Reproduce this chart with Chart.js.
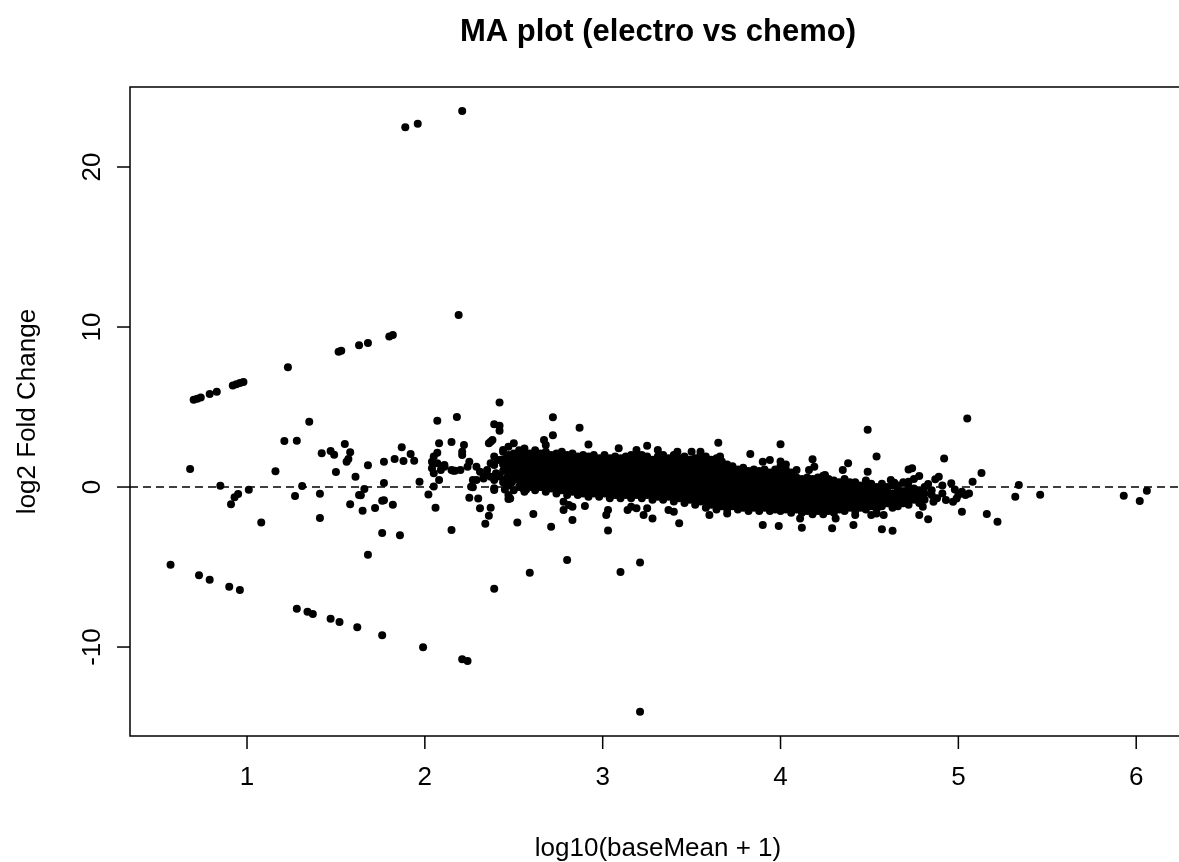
<!DOCTYPE html>
<html>
<head>
<meta charset="utf-8">
<title>MA plot (electro vs chemo)</title>
<script src="https://cdn.jsdelivr.net/npm/chart.js@4.4.1/dist/chart.umd.min.js"></script>
<style>
  html, body { margin: 0; padding: 0; background: #fff; overflow: hidden; }
  #wrap { width: 1190px; height: 862px; }
</style>
</head>
<body>
<div id="wrap"><canvas id="maPlot" width="1190" height="862"></canvas></div>
<script>
// axis limits and ticks, as in the R plot (range + 4%)
const xLim   = [0.342, 6.28];
const yLim   = [-15.56, 25.0];
const xTicks = [1, 2, 3, 4, 5, 6];
const yTicks = [-10, 0, 10, 20];

const mainTitle = 'MA plot (electro vs chemo)';
const xTitle    = 'log10(baseMean + 1)';
const yTitle    = 'log2 Fold Change';

// [A, M] = [log10(baseMean + 1), log2 fold change]
const upperStreak = [
  [0.70,5.45],[0.72,5.52],[0.74,5.6],[0.79,5.81],[0.83,5.96],[0.92,6.35],[0.94,6.42],[0.96,6.5],[0.98,6.56],
  [1.23,7.48],[1.515,8.45],[1.53,8.52],[1.63,8.86],[1.68,9.0],[1.80,9.4],[1.82,9.5],[2.19,10.75],
  [1.89,22.48],[1.96,22.71],[2.21,23.5]
];

const lowerStreak = [
  [0.57,-4.86],[0.73,-5.52],[0.79,-5.79],[0.90,-6.23],[0.96,-6.44],[1.28,-7.61],[1.34,-7.79],[1.37,-7.94],
  [1.47,-8.23],[1.52,-8.44],[1.62,-8.77],[1.76,-9.27],[1.99,-10.02],[2.21,-10.77],[2.24,-10.88],[3.21,-14.05]
];

const lowSpread = [
  [0.68,1.13],[0.85,0.08],[0.91,-1.08],[0.93,-0.64],[0.95,-0.44],[1.01,-0.17],[1.08,-2.21],[1.16,0.98],
  [1.21,2.88],[1.28,2.89],[1.27,-0.56],[1.31,0.06],[1.35,4.08],[1.41,-0.42],[1.41,-1.94],[1.42,2.11],
  [1.47,2.25],[1.49,2.02],[1.50,0.94],[1.55,2.69],[1.56,1.58],[1.57,1.75],[1.58,2.17],[1.58,-1.08],
  [1.61,0.64],[1.63,-0.5],[1.64,-0.52],[1.65,-1.48],[1.66,-0.13],[1.68,1.36],[1.68,-4.24],[1.72,-1.31],
  [1.76,-0.86],[1.77,-0.83],[1.76,-2.88],[1.77,1.58],[1.77,0.25],[1.82,-1.11],[1.83,1.75],[1.86,-3.02],
  [1.87,2.48],[1.88,1.63],[1.92,2.06],[1.94,1.64],[1.97,0.33],[2.02,-0.46],[2.04,1.58],[2.04,1.17],
  [2.05,0.04],[2.05,0.86],[2.05,1.9],[2.06,-1.29],[2.07,4.14],[2.07,2.14],[2.07,1.48],[2.08,2.73],
  [2.08,0.44],[2.09,1.06],[2.10,1.31],[2.11,1.38],[2.11,1.27],[2.15,2.81],[2.15,1.06],[2.15,-2.69],
  [2.16,1.02],[2.17,1.02],[2.18,4.38],[2.20,1.06],[2.21,2.21],[2.21,2.0],[2.22,2.63],[2.24,1.27],
  [2.25,1.58],[2.25,-0.67],[2.26,0.02],[2.27,0.44],[2.27,-0.02],[2.29,1.27],[2.29,0.44],[2.30,-0.71],
  [2.31,0.96],[2.31,-1.33],[2.33,0.54],[2.33,0.64],[2.34,-2.29],[2.35,1.06],[2.35,0.75],[2.36,-1.79],
  [2.37,0.64],[2.37,1.48],[2.37,-1.29],[2.37,2.83],[2.38,2.94],[2.36,2.73],[2.39,0.44],[2.39,1.38],
  [2.39,1.9],[2.39,-0.08],[2.39,-0.19],[2.39,3.92],[2.39,-6.36],[2.40,0.86],[2.41,1.69],[2.42,3.83],
  [2.42,3.52],[2.42,5.29],[2.42,0.65],[2.43,1.7],[2.45,-0.15],[2.46,0.55],[2.46,1.85],[2.49,0.3]
];

const bandFringe = [
  [2.44,2.31],[2.47,2.52],[2.50,2.73],[2.67,2.94],[2.68,2.63],[2.72,4.36],[2.72,3.23],[2.87,3.71],
  [2.92,2.65],[3.09,2.42],[3.19,2.31],[3.25,2.58],[3.31,2.31],[3.42,2.21],[3.50,2.21],[3.55,2.21],
  [3.65,2.77],[3.66,1.9],[3.83,2.06],[3.90,1.58],[3.94,1.69],[4.00,2.67],[4.09,1.06],[4.16,1.06],
  [4.18,1.73],[4.19,1.27],[4.25,0.75],[4.35,1.06],[4.38,1.48],[4.49,0.96],[4.49,3.58],[4.54,1.9],
  [2.47,-0.5],[2.48,-0.71],[2.47,-0.75],[2.52,-2.21],[2.55,-0.08],[2.56,-0.19],[2.57,-0.15],[2.59,-5.36],
  [2.61,-1.69],[2.65,0.02],[2.71,-2.48],[2.78,-0.92],[2.78,-1.44],[2.80,-4.56],[2.81,-1.13],[2.83,-1.23],
  [2.83,-2.06],[2.90,-1.19],[3.02,-1.75],[3.03,-1.44],[3.03,-2.72],[3.10,-5.31],[3.14,-1.44],[3.16,-1.23],
  [3.19,-1.33],[3.21,-4.71],[3.23,-1.75],[3.25,-1.33],[3.28,-1.96],[3.37,-1.44],[3.40,-1.54],[3.43,-2.27],
  [3.60,-1.75],[3.70,-1.65],[3.90,-2.38],[3.99,-2.44],[4.11,-1.96],[4.12,-2.54],[4.29,-2.58],[4.31,-1.96],
  [4.41,-2.38],[4.42,-1.75],[4.51,-1.75],[4.54,-1.65],[4.57,-2.64],[4.58,-1.75],[4.60,-1.02],[4.63,-2.73],
  [4.63,-1.23]
];

const highSpread = [
  [4.62,0.44],[4.64,0.27],[4.67,-0.6],[4.69,-1.02],[4.71,-0.81],[4.72,1.1],[4.72,0.33],[4.74,1.17],
  [4.78,0.69],[4.78,-1.75],[4.80,-1.23],[4.83,0.19],[4.83,-2.02],[4.86,-0.92],[4.87,0.48],[4.89,0.64],
  [4.92,1.79],[4.93,-0.81],[4.96,0.23],[4.97,-0.92],[4.98,-0.15],[4.99,-0.71],[5.00,-0.5],[5.02,-0.29],
  [5.02,-1.54],[5.04,-0.5],[5.05,4.29],[5.06,-0.4],[5.08,0.33],[5.13,0.88],[5.16,-1.69],[5.22,-2.17],
  [5.32,-0.6],[5.34,0.13],[5.46,-0.48],[5.93,-0.54],[6.02,-0.88],[6.06,-0.23],
  [4.66,-1.2],[4.66,-0.9],[4.66,-0.5],[4.66,-0.2],[4.66,0.1],[4.69,-0.7],[4.69,-0.3],[4.69,0.3],
  [4.72,-1.1],[4.72,-0.6],[4.72,-0.3],[4.72,0.0],[4.75,-0.8],[4.75,-0.5],[4.75,-0.1],[4.75,0.5],
  [4.78,-1.0],[4.78,-0.6],[4.78,-0.2],[4.81,-0.8],[4.81,-0.4],[4.81,0.0],[4.85,-0.5],[4.85,-0.2],
  [4.88,-0.7],[4.91,-0.4],[4.91,0.1]
];

// the dense body of genes: one A value per column, with the M values stacked in it
const bandColumns = [
  [2.44,[0.3,1.0,1.4,2.2]],
  [2.47,[0.1,0.9,1.2,1.6,2.0]],
  [2.50,[-0.2,0.6,1.0,1.3,1.7,2.1]],
  [2.53,[0.0,0.4,0.8,1.1,1.5,1.9,2.3]],
  [2.56,[-0.3,0.1,0.5,0.9,1.2,1.6,2.0,2.4]],
  [2.59,[0.0,0.3,0.7,1.0,1.4,1.8,2.1]],
  [2.62,[-0.2,0.2,0.5,0.9,1.2,1.6,1.9,2.3]],
  [2.65,[0.0,0.4,0.7,1.1,1.4,1.8,2.1]],
  [2.68,[-0.3,0.1,0.5,0.8,1.2,1.5,1.9,2.2]],
  [2.71,[-0.1,0.3,0.6,1.0,1.3,1.7,2.0]],
  [2.74,[-0.4,0.0,0.4,0.7,1.1,1.4,1.8,2.1]],
  [2.77,[-0.2,0.2,0.5,0.9,1.2,1.6,1.9,2.2]],
  [2.80,[-0.5,-0.1,0.3,0.6,1.0,1.3,1.7,2.0]],
  [2.83,[-0.3,0.1,0.4,0.8,1.1,1.5,1.8,2.1]],
  [2.86,[-0.5,-0.2,0.2,0.5,0.9,1.2,1.6,1.9]],
  [2.89,[-0.4,0.0,0.3,0.7,1.0,1.4,1.7,2.0]],
  [2.92,[-0.6,-0.2,0.1,0.5,0.8,1.2,1.5,1.9]],
  [2.95,[-0.4,0.0,0.3,0.6,1.0,1.3,1.7,2.0]],
  [2.98,[-0.6,-0.2,0.1,0.5,0.8,1.1,1.5,1.8]],
  [3.01,[-0.4,0.0,0.3,0.6,1.0,1.3,1.6,2.0]],
  [3.04,[-0.7,-0.3,0.1,0.4,0.8,1.1,1.5,1.8]],
  [3.07,[-0.5,-0.1,0.2,0.6,0.9,1.3,1.6,1.9]],
  [3.10,[-0.7,-0.3,0.0,0.4,0.7,1.1,1.4,1.8]],
  [3.13,[-0.5,-0.1,0.2,0.6,0.9,1.2,1.6,1.9]],
  [3.16,[-0.7,-0.3,0.0,0.4,0.7,1.1,1.4,1.7,2.0]],
  [3.19,[-0.5,-0.1,0.2,0.5,0.9,1.2,1.6,1.9]],
  [3.22,[-0.7,-0.3,0.0,0.4,0.7,1.0,1.4,1.7,2.0]],
  [3.25,[-0.5,-0.2,0.2,0.5,0.9,1.2,1.5,1.9]],
  [3.28,[-0.8,-0.4,0.0,0.3,0.7,1.0,1.4,1.7]],
  [3.31,[-0.6,-0.2,0.1,0.5,0.8,1.2,1.5,1.9]],
  [3.34,[-0.8,-0.4,-0.1,0.3,0.6,1.0,1.3,1.7,2.0]],
  [3.37,[-0.6,-0.2,0.1,0.5,0.8,1.1,1.5,1.8]],
  [3.40,[-0.9,-0.5,-0.1,0.2,0.6,0.9,1.3,1.6,2.0]],
  [3.43,[-0.7,-0.3,0.0,0.4,0.7,1.1,1.4,1.8]],
  [3.46,[-1.0,-0.6,-0.2,0.1,0.5,0.8,1.2,1.5,1.9]],
  [3.49,[-0.8,-0.4,-0.1,0.3,0.6,1.0,1.3,1.7]],
  [3.52,[-1.1,-0.7,-0.3,0.0,0.4,0.7,1.1,1.4,1.8]],
  [3.55,[-0.9,-0.5,-0.2,0.2,0.5,0.9,1.2,1.6,2.0]],
  [3.58,[-1.3,-0.9,-0.6,-0.2,0.1,0.5,0.8,1.2,1.5,1.9]],
  [3.61,[-1.1,-0.7,-0.4,0.0,0.3,0.7,1.0,1.4,1.7]],
  [3.64,[-1.4,-1.0,-0.7,-0.3,0.1,0.4,0.8,1.1,1.5,1.8]],
  [3.67,[-1.2,-0.8,-0.5,-0.1,0.2,0.6,0.9,1.3,1.6]],
  [3.70,[-1.4,-1.0,-0.6,-0.3,0.1,0.4,0.8,1.1,1.4]],
  [3.73,[-1.2,-0.8,-0.5,-0.1,0.2,0.6,0.9,1.3]],
  [3.76,[-1.4,-1.1,-0.7,-0.3,0.0,0.4,0.7,1.1]],
  [3.79,[-1.3,-0.9,-0.5,-0.2,0.2,0.5,0.9,1.2]],
  [3.82,[-1.5,-1.1,-0.7,-0.4,0.0,0.3,0.7,1.0]],
  [3.85,[-1.3,-0.9,-0.6,-0.2,0.1,0.5,0.8,1.1]],
  [3.88,[-1.5,-1.1,-0.8,-0.4,-0.1,0.3,0.6,1.0]],
  [3.91,[-1.3,-1.0,-0.6,-0.3,0.1,0.4,0.8,1.1]],
  [3.94,[-1.5,-1.2,-0.8,-0.5,-0.1,0.2,0.6,0.9]],
  [3.97,[-1.4,-1.0,-0.7,-0.3,0.0,0.4,0.7,1.1]],
  [4.00,[-1.5,-1.2,-0.8,-0.5,-0.1,0.2,0.6,0.9,1.3,1.6]],
  [4.03,[-1.4,-1.0,-0.7,-0.3,0.0,0.4,0.7,1.1,1.4]],
  [4.06,[-1.6,-1.2,-0.9,-0.5,-0.2,0.2,0.5,0.9]],
  [4.09,[-1.4,-1.1,-0.7,-0.4,0.0,0.3,0.6]],
  [4.12,[-1.6,-1.2,-0.9,-0.5,-0.2,0.2,0.5]],
  [4.15,[-1.5,-1.1,-0.8,-0.4,-0.1,0.3,0.6]],
  [4.18,[-1.7,-1.3,-0.9,-0.6,-0.2,0.1,0.5]],
  [4.21,[-1.5,-1.1,-0.8,-0.4,-0.1,0.3,0.6]],
  [4.24,[-1.7,-1.3,-1.0,-0.6,-0.3,0.1,0.4,0.7]],
  [4.27,[-1.5,-1.2,-0.8,-0.5,-0.1,0.2,0.5]],
  [4.30,[-1.6,-1.3,-0.9,-0.6,-0.2,0.1,0.4]],
  [4.33,[-1.4,-1.1,-0.7,-0.4,0.0,0.3]],
  [4.36,[-1.5,-1.2,-0.8,-0.5,-0.1,0.2,0.5]],
  [4.39,[-1.3,-1.0,-0.6,-0.3,0.0,0.3]],
  [4.42,[-1.5,-1.1,-0.8,-0.4,-0.1,0.3]],
  [4.45,[-1.3,-0.9,-0.6,-0.2,0.1]],
  [4.48,[-1.4,-1.1,-0.7,-0.4,0.0,0.4]],
  [4.51,[-1.2,-0.9,-0.5,-0.2,0.2]],
  [4.54,[-1.4,-1.0,-0.7,-0.3,0.0]],
  [4.57,[-1.2,-0.8,-0.5,-0.1,0.2]],
  [4.60,[-1.0,-0.7,-0.3,0.0]],
  [4.63,[-1.3,-0.8,-0.4,0.1]]
];

const toPts = list => list.map(([a, m]) => ({ x: a, y: m }));
const bandPts = [];
bandColumns.forEach(([a, ms]) => ms.forEach(m => bandPts.push({ x: a, y: m })));

const FONT = '"Liberation Sans", Arial, Helvetica, sans-serif';

// R style frame: box, outward ticks, labels and titles
const rFrame = {
  id: 'rFrame',
  afterDraw(chart) {
    const { ctx, chartArea: a } = chart;
    const xs = chart.scales.x, ys = chart.scales.y;
    ctx.save();
    ctx.strokeStyle = '#000';
    ctx.fillStyle = '#000';
    ctx.lineWidth = 1.5;
    ctx.strokeRect(a.left, a.top, a.right - a.left, a.bottom - a.top);

    ctx.font = '26px ' + FONT;
    ctx.textAlign = 'center';
    ctx.textBaseline = 'middle';
    xTicks.forEach(v => {
      const px = xs.getPixelForValue(v);
      ctx.beginPath(); ctx.moveTo(px, a.bottom); ctx.lineTo(px, a.bottom + 13); ctx.stroke();
      ctx.fillText(String(v), px, a.bottom + 42);
    });
    yTicks.forEach(v => {
      const py = ys.getPixelForValue(v);
      ctx.beginPath(); ctx.moveTo(a.left, py); ctx.lineTo(a.left - 13, py); ctx.stroke();
      ctx.save();
      ctx.translate(a.left - 37, py);
      ctx.rotate(-Math.PI / 2);
      ctx.fillText(String(v), 0, 0);
      ctx.restore();
    });

    ctx.fillText(xTitle, (a.left + a.right) / 2, a.bottom + 113);
    ctx.save();
    ctx.translate(a.left - 102, (a.top + a.bottom) / 2);
    ctx.rotate(-Math.PI / 2);
    ctx.fillText(yTitle, 0, 0);
    ctx.restore();

    ctx.font = 'bold 31px ' + FONT;
    ctx.fillText(mainTitle, (a.left + a.right) / 2, 32);
    ctx.restore();
  }
};

const dot = pts => ({
  type: 'scatter',
  data: pts,
  backgroundColor: '#000',
  borderWidth: 0,
  pointRadius: 4,
  pointHoverRadius: 4
});

new Chart(document.getElementById('maPlot'), {
  type: 'scatter',
  data: {
    datasets: [
      dot(bandPts),
      dot(toPts(bandFringe)),
      dot(toPts(lowSpread)),
      dot(toPts(highSpread)),
      dot(toPts(upperStreak)),
      dot(toPts(lowerStreak)),
      {
        type: 'line',
        data: [{ x: xLim[0], y: 0 }, { x: xLim[1], y: 0 }],
        borderColor: '#000',
        borderWidth: 1.5,
        borderDash: [8, 5],
        pointRadius: 0,
        fill: false
      }
    ]
  },
  options: {
    responsive: false,
    animation: false,
    devicePixelRatio: 1,
    layout: { padding: { left: 130, top: 87, right: 4, bottom: 126 } },
    plugins: { legend: { display: false }, tooltip: { enabled: false }, title: { display: false } },
    scales: {
      x: { type: 'linear', display: false, min: xLim[0], max: xLim[1] },
      y: { type: 'linear', display: false, min: yLim[0], max: yLim[1] }
    }
  },
  plugins: [rFrame]
});
</script>
</body>
</html>
